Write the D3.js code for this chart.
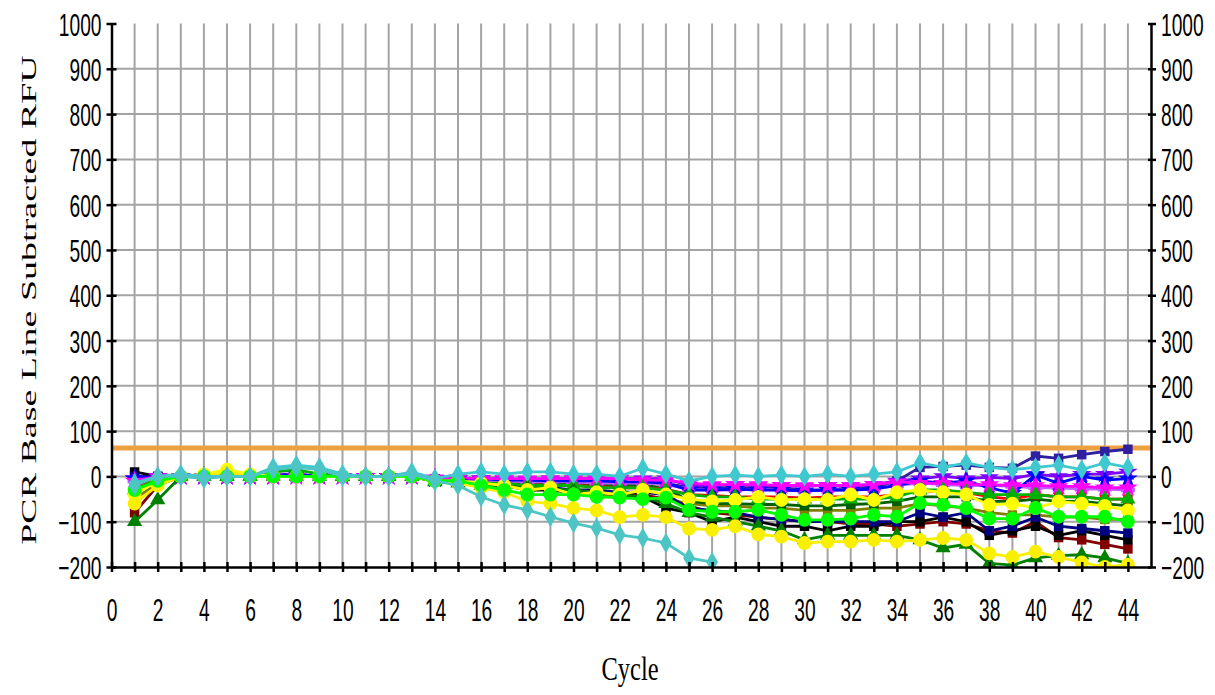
<!DOCTYPE html>
<html><head><meta charset="utf-8">
<script src="https://cdn.jsdelivr.net/npm/d3@7"></script>
<style>body{margin:0;background:#fff}svg{display:block}</style>
</head><body>
<svg id="c" width="1215" height="695"></svg>
<script>
// ---- data ----
const yTicks = [-200,-100,0,100,200,300,400,500,600,700,800,900,1000];
const xTickLabels = [0,2,4,6,8,10,12,14,16,18,20,22,24,26,28,30,32,34,36,38,40,42,44];
const threshold = 63;
const seriesNames = ["olive","darkGreen2","red","darkRed","black","navy","darkNavy","violet","purple","blue","magenta","green","darkGreen","yellowHigh","yellowLow","lime","cyanHigh","cyanLow"];
const seriesColors = ["#808000","#006000","#ff0000","#800000","#000000","#000080","#3020a0","#c060ff","#8000ff","#0000ff","#ff00ff","#00b000","#008000","#ffff00","#f8f000","#00ff00","#40c8d0","#4ec5c5"];
const seriesShapes = ["square","square","square","square","square","square","square","cross","star","star","star","triangle","triangle","circle","circle","circle","diamond","diamond"];
const olive = [-50,-15,0,0,0,0,0,0,0,0, 0,0,0,-10,-12,-18,-22,-25,-30,-35, -40,-45,-45,-50,-60,-65,-65,-70,-70,-75, -75,-75,-70,-70,-60,-65,-70,-80,-85,-85, -90,-90,-95,-95];
const darkGreen2 = [-20,-5,0,0,0,0,0,0,0,0, 0,0,0,-5,-5,-10,-10,-15,-15,-15, -20,-20,-20,-25,-55,-60,-60,-62,-62,-65, -65,-62,-60,-55,-45,-45,-45,-55,-55,-50, -55,-55,-60,-65];
const red = [-20,-5,0,0,0,0,0,0,0,0, 0,0,0,-8,-10,-12,-15,-18,-20,-20, -22,-25,-25,-28,-40,-42,-45,-45,-45,-48, -45,-45,-45,-40,-30,-35,-35,-45,-50,-40, -45,-45,-50,-50];
const darkRed = [-80,-20,0,0,0,0,0,0,0,0, 0,0,0,-10,-12,-15,-20,-25,-28,-30, -35,-40,-40,-50,-65,-80,-85,-90,-95,-100, -100,-105,-105,-110,-105,-100,-105,-120,-125,-100, -135,-140,-150,-160];
const black = [10,0,0,0,0,0,5,0,0,0, 0,0,0,-10,-10,-15,-20,-30,-30,-35, -35,-40,-45,-70,-80,-100,-90,-100,-110,-110, -120,-110,-110,-100,-100,-90,-100,-130,-120,-110, -130,-120,-130,-140];
const navy = [0,0,0,0,0,0,0,0,0,0, 0,0,0,-8,-10,-15,-15,-20,-25,-30, -30,-35,-35,-40,-70,-75,-80,-90,-95,-100, -100,-100,-100,-100,-80,-90,-80,-120,-110,-90, -110,-115,-120,-125];
const darkNavy = [-10,0,0,0,0,0,5,5,0,0, 0,0,0,-5,-5,-10,-10,-10,-10,-12, -12,-15,-15,-15,-25,-25,-25,-25,-25,-30, -30,-25,-25,-10,20,22,25,20,18,45, 40,48,55,60];
const violet = [-10,-5,0,0,0,0,0,0,0,0, 0,0,0,-5,-8,-10,-10,-12,-12,-12, -15,-15,-15,-18,-28,-30,-30,-28,-30,-32, -30,-30,-28,-20,-15,-18,-20,-20,-22,-25, -25,-28,-28,-30];
const purple = [-5,0,0,0,0,0,0,0,0,0, 0,0,0,-5,-5,-5,-5,-8,-5,-5, -5,-5,-5,-5,-20,-20,-18,-20,-20,-22, -20,-20,-18,-10,-5,0,-5,-2,-5,5, 0,5,5,10];
const blue = [-5,0,0,0,0,0,0,5,0,0, 0,0,0,-5,-5,-5,-8,-8,-10,-10, -10,-12,-12,-15,-30,-30,-28,-30,-30,-32, -30,-30,-28,-20,-10,-15,-10,-25,-37,3, -15,0,-8,-5];
const magenta = [-10,0,0,0,0,0,0,0,0,0, 0,0,0,-3,-3,-5,-5,-5,-5,-5, -5,-5,-8,-8,-15,-18,-18,-18,-20,-20, -20,-20,-18,-12,-15,-15,-18,-18,-20,-20, -22,-22,-25,-25];
const green = [-30,-5,0,0,0,0,10,15,5,0, 0,0,0,-10,-10,-15,-15,-20,-20,-20, -25,-25,-25,-30,-40,-45,-45,-50,-50,-50, -50,-50,-50,-45,-30,-30,-35,-40,-40,-40, -45,-45,-50,-50];
const darkGreen = [-100,-52,0,0,0,0,0,0,0,0, 0,0,0,-12,-15,-20,-22,-25,-28,-30, -35,-40,-45,-60,-80,-90,-100,-110,-120,-140, -130,-130,-130,-130,-140,-158,-150,-192,-196,-180, -175,-173,-180,-192];
const yellowHigh = [-40,-10,0,5,15,5,0,0,0,0, 0,0,0,-10,-10,-15,-20,-30,-25,-40, -35,-40,-30,-40,-50,-55,-52,-45,-52,-50, -52,-40,-52,-35,-30,-35,-40,-63,-60,-70, -55,-60,-65,-75];
const yellowLow = [-60,-20,0,0,10,0,0,0,0,0, 0,0,0,-10,-15,-25,-35,-55,-60,-70, -75,-90,-85,-90,-115,-118,-110,-128,-133,-147, -144,-144,-140,-144,-140,-136,-140,-170,-178,-166, -178,-190,-200,-195];
const lime = [-30,-10,0,0,0,0,0,0,0,0, 0,0,0,-10,-10,-20,-30,-40,-40,-40, -45,-47,-50,-47,-74,-78,-78,-74,-85,-96, -96,-93,-85,-89,-59,-63,-70,-93,-93,-70, -89,-89,-89,-100];
const cyanHigh = [-15,0,5,0,0,0,20,25,20,5, 0,0,10,-5,5,10,5,10,10,5, 5,0,18,5,-10,0,3,0,3,0, 5,0,5,10,30,20,30,20,15,20, 25,15,30,20];
const cyanLow = [-20,0,0,-5,0,0,15,20,15,0, 0,0,5,-10,-20,-45,-63,-74,-89,-103, -114,-129,-136,-147,-180,-189];
const seriesValues = [olive,darkGreen2,red,darkRed,black,navy,darkNavy,violet,purple,blue,magenta,green,darkGreen,yellowHigh,yellowLow,lime,cyanHigh,cyanLow];

// ---- layout ----
const svg = d3.select("#c");
const L = 111.5, R = 1151, T = 23.5, B = 567;
const x = d3.scaleLinear().domain([0,45]).range([L,R]);
const y = d3.scaleLinear().domain([-200,1000]).range([B,T]);

svg.append("defs").append("clipPath").attr("id","clip")
  .append("rect").attr("x",L).attr("y",T).attr("width",R-L).attr("height",B-T);

// grid
const grid = svg.append("g").attr("stroke","#a4a4a4").attr("stroke-width",2);
grid.selectAll("line.v").data(d3.range(1,45)).join("line")
  .attr("x1",d=>x(d)).attr("x2",d=>x(d)).attr("y1",T).attr("y2",B);
grid.selectAll("line.h").data(yTicks.filter(d=>d>-200&&d<1000)).join("line")
  .attr("x1",L).attr("x2",R).attr("y1",d=>y(d)).attr("y2",d=>y(d));

// threshold
svg.append("line").attr("x1",L).attr("x2",R).attr("y1",y(threshold)).attr("y2",y(threshold))
  .attr("stroke","#eca040").attr("stroke-width",5);

// series
const symMap = {square:d3.symbolSquare, circle:d3.symbolCircle, diamond:d3.symbolDiamond, triangle:d3.symbolTriangle, star:d3.symbolStar, cross:d3.symbolCross};
const symSize = {square:90, circle:150, diamond:120, triangle:100, star:120, cross:110};
const plot = svg.append("g").attr("clip-path","url(#clip)");
const line = d3.line().x((d,i)=>x(i+1)).y(d=>y(d));
seriesValues.forEach((vals,k)=>{
  const g = plot.append("g").attr("class","series-"+seriesNames[k]);
  g.append("path").attr("d",line(vals)).attr("fill","none")
    .attr("stroke",seriesColors[k]).attr("stroke-width",2.8);
  const sym = d3.symbol().type(symMap[seriesShapes[k]]).size(symSize[seriesShapes[k]]);
  g.selectAll("path.m").data(vals).join("path").attr("class","m")
    .attr("transform",(d,i)=>`translate(${x(i+1)},${y(d)})`)
    .attr("d",sym()).attr("fill",seriesColors[k]);
});

// axes
const fontT = "'Liberation Sans', Arial, sans-serif";
function styleAxis(g){
  g.select(".domain").attr("stroke","#000").attr("stroke-width",2.5);
  g.selectAll(".tick line").attr("stroke","#000").attr("stroke-width",2.5);
  g.selectAll("text").attr("font-family",fontT).attr("font-size",32).attr("fill","#000");
}
const yl = svg.append("g").attr("transform",`translate(${L},0)`)
  .call(d3.axisLeft(y).tickValues(yTicks).tickSize(5).tickSizeOuter(0).tickFormat(d3.format("d")));
styleAxis(yl);
yl.selectAll(".tick line").attr("x1",5).attr("x2",-5);
yl.selectAll(".tick text").attr("x",null).attr("dy",null)
  .attr("transform","translate(-10,11.5) scale(0.6,1)").attr("text-anchor","end");

const yr = svg.append("g").attr("transform",`translate(${R},0)`)
  .call(d3.axisRight(y).tickValues(yTicks).tickSize(5).tickSizeOuter(0).tickFormat(d3.format("d")));
styleAxis(yr);
yr.selectAll(".tick line").attr("x1",-3).attr("x2",5);
yr.selectAll(".tick text").attr("x",null).attr("dy",null)
  .attr("transform","translate(10,11.5) scale(0.6,1)").attr("text-anchor","start");

const xb = svg.append("g").attr("transform",`translate(0,${B})`)
  .call(d3.axisBottom(x).tickValues(d3.range(0,45)).tickSize(5).tickSizeOuter(0)
    .tickFormat(d=>xTickLabels.includes(d)?String(d):""));
styleAxis(xb);
xb.selectAll(".tick line").attr("y1",-5).attr("y2",5);
xb.selectAll(".tick text").attr("y",null).attr("dy",null)
  .attr("transform","translate(0,54) scale(0.6,1)").attr("text-anchor","middle");

// titles
svg.append("text").attr("transform","translate(630,680) scale(0.72,1)")
  .attr("text-anchor","middle").attr("font-family","'Liberation Serif', 'Times New Roman', serif")
  .attr("font-size",34).text("Cycle");
svg.append("text").attr("transform","translate(36,300) rotate(-90) scale(1,0.55)")
  .attr("text-anchor","middle").attr("font-family","'Liberation Serif', 'Times New Roman', serif")
  .attr("font-size",38).text("PCR Base Line Subtracted RFU");
</script>
</body></html>
